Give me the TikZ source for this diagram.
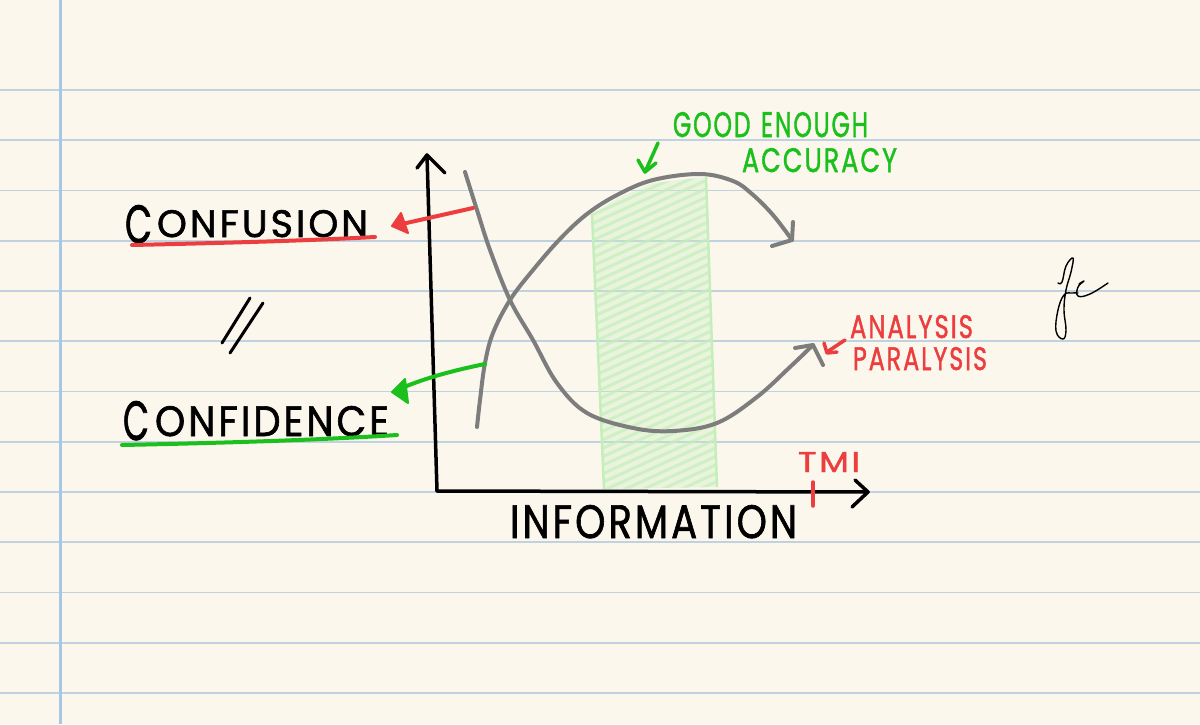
\documentclass[tikz,border=0pt]{standalone}
\usepackage{fontspec}
\setmainfont{Poppins}
\usepackage{graphicx}
\definecolor{paper}{RGB}{251,247,237}
\definecolor{ruleblue}{RGB}{192,210,224}
\definecolor{marginblue}{RGB}{165,200,228}
\definecolor{inkred}{RGB}{236,62,62}
\definecolor{inkgreen}{RGB}{28,192,28}
\definecolor{curvegray}{RGB}{125,125,125}
\definecolor{hatchgreen}{RGB}{196,238,186}
\newcommand{\fitbox}[3]{\resizebox{#1pt}{#2pt}{\addfontfeatures{LetterSpace=8,FakeBold=1.5}#3}}
\tikzset{
  lbl/.style={inner sep=0pt, outer sep=0pt, anchor=north west},
  ink/.style={line width=3.5pt, line cap=round, line join=round, black},
  curvepen/.style={line width=4pt, line cap=round, line join=round, curvegray},
  redpen/.style={line width=4pt, line cap=round, line join=round, inkred},
  greenpen/.style={line width=4pt, line cap=round, line join=round, inkgreen},
  sigpen/.style={line width=1.4pt, line cap=round, line join=round, black},
}
\begin{document}
\begin{tikzpicture}[x=1pt,y=-1pt]
% paper
\fill[paper] (0,0) rectangle (1200,724);
\useasboundingbox (0,0) rectangle (1200,724);
\foreach \k in {0,...,12} \draw[ruleblue, line width=1.6pt] (0,{90+50.25*\k}) -- (1200,{90+50.25*\k});
\draw[marginblue, line width=3pt] (60,0) -- (60,724);

% good-enough band
\begin{scope}
\clip (592,214) -- (620,197) -- (653,183) -- (706,177) -- (717,487) -- (604,489) -- cycle;
\fill[hatchgreen, opacity=0.3] (500,150) rectangle (800,520);
\foreach \i in {0,...,48} \draw[hatchgreen, line width=3pt, opacity=0.7] (580,{195+8.5*\i}) -- (730,{195+8.5*\i-68});
\end{scope}
\draw[hatchgreen, line width=2.5pt] (592,214) -- (604,489);
\draw[hatchgreen, line width=2.5pt] (706,177) -- (717,487);

% axes
\coordinate (origin) at (437,491);
\coordinate (ytip) at (427,155);
\coordinate (xtip) at (868,492);
\draw[ink] (origin) -- (ytip);
\draw[ink] (417,168) -- (ytip) -- (445,173);
\draw[ink] (origin) -- (xtip);
\draw[ink] (855,480) -- (xtip) -- (852,507);

% TMI tick
\coordinate (tmitop) at (813,482);
\coordinate (tmibot) at (813,506);
\draw[redpen, line width=3.5pt] (tmitop) -- (tmibot);

% confusion curve
\coordinate (cfsstart) at (465,172);
\coordinate (cfsend) at (813,345);
\draw[curvepen] plot[smooth, tension=0.6] coordinates {(465,172) (477,210) (490,250) (510,300) (533,340) (557,383) (587,413) (633,428) (673,431) (717,423) (757,397) (790,367) (813,345)};
\draw[curvepen] (795,348) -- (cfsend) -- (823,365);

% confidence curve
\coordinate (cfdstart) at (477,427);
\coordinate (cfdend) at (792,240);
\draw[curvepen] plot[smooth, tension=0.6] coordinates {(477,427) (480,400) (485,363) (493,333) (510,300) (533,270) (560,239) (587,214) (617,195) (653,180) (700,174) (733,181) (752,194) (773,215) (792,240)};
\draw[curvepen] (793,222) -- (cfdend) -- (772,246);

% red arrow
\coordinate (redfrom) at (473,208);
\coordinate (redtip) at (392,226);
\draw[redpen] (redfrom) -- (402,224);
\fill[inkred, draw=inkred, line width=2pt, line join=round] (redtip) -- (401,213) -- (408,233) -- cycle;

% green arrow
\coordinate (greenfrom) at (485,364);
\coordinate (greentip) at (392,392);
\draw[greenpen] (greenfrom) .. controls (455,370) and (425,378) .. (402,388);
\fill[inkgreen, draw=inkgreen, line width=2pt, line join=round] (greentip) -- (405,379) -- (408,403) -- cycle;

% labels left
\node[lbl] (cfsC) at (125,205) {\fitbox{27}{38}{C}};
\node[lbl] (cfsrest) at (157,210) {\fitbox{211}{27}{ONFUSION}};
\draw[redpen] (132,245) .. controls (220,243) and (300,241) .. (375,237);
\node[lbl] (cfdC) at (123,401) {\fitbox{26}{39}{C}};
\node[lbl] (cfdrest) at (155,406) {\fitbox{234}{30}{ONFIDENCE}};
\draw[greenpen] (122,445) .. controls (220,443) and (320,440) .. (397,435);
% slashes
\draw[ink, line width=3pt] (250,298) -- (222,343);
\draw[ink, line width=3pt] (263,303) -- (230,353);

% axis label
\node[lbl] (info) at (510,505) {\fitbox{287}{33}{INFORMATION}};
\node[lbl, text=inkred] (tmi) at (798,452) {\fitbox{62}{20}{TMI}};

% good enough
\node[lbl, text=inkgreen] (good) at (673,112) {\fitbox{195}{25}{GOOD\hspace{0.45em}ENOUGH}};
\node[lbl, text=inkgreen] (accuracy) at (742,148) {\fitbox{155}{24}{ACCURACY}};
\draw[greenpen, line width=3.5pt] (658,143) -- (645,172);
\draw[greenpen, line width=3.5pt] (638,160) -- (645,172) -- (656,163);

% analysis paralysis
\node[lbl, text=inkred] (analysis) at (850,315) {\fitbox{123}{23}{ANALYSIS}};
\node[lbl, text=inkred] (paralysis) at (853,347) {\fitbox{134}{23}{PARALYSIS}};
\draw[redpen, line width=3.5pt] (845,340) -- (827,352);
\draw[redpen, line width=3.5pt] (824,343) -- (827,353) -- (837,352);

% signature
\draw[sigpen] plot[smooth, tension=0.7] coordinates {(1058,283) (1062,282) (1066,266) (1073,258) (1071,272) (1066,290) (1064,310) (1066,330) (1063,339) (1056,331) (1058,310) (1064,295) (1072,293) (1078,293)};
\draw[sigpen] plot[smooth, tension=0.7] coordinates {(1079,284) (1084,281) (1078,287) (1078,296) (1090,294) (1108,283)};
\end{tikzpicture}
\end{document}
